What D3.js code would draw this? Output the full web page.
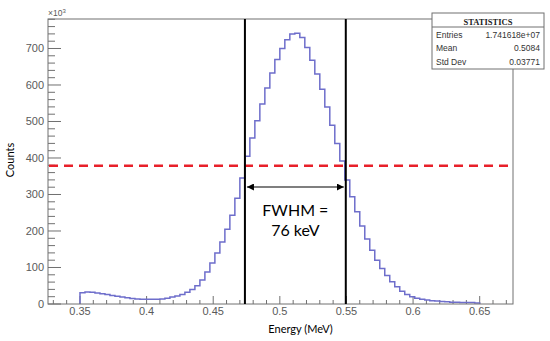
<!DOCTYPE html>
<html>
<head>
<meta charset="utf-8">
<script src="https://cdn.jsdelivr.net/npm/d3@7"></script>
<style>
  body { margin: 0; background: #fff; }
  svg { display: block; }
</style>
</head>
<body>
<div id="container"></div>
<script>
// histogram: 80 bins from 0.35 to 0.65 MeV, counts in thousands
const binStart = 0.35;
const binWidth = 0.00375;
const counts = [31, 33, 32, 30, 28, 26, 23, 21, 19, 17,
                15, 14, 13, 13, 13, 13, 14, 16, 19, 22,
                26, 32, 40, 50, 66, 88, 112, 140, 170, 205,
                243, 290, 345, 405, 455, 502, 548, 592, 633, 670,
                700, 724, 740, 742, 730, 703, 668, 630, 588, 540,
                490, 440, 392, 340, 294, 253, 214, 178, 147, 120,
                97, 78, 61, 47, 35, 26, 20, 16, 13, 11,
                9, 8, 7, 6, 5, 5, 4, 4, 4, 3];

const xTicks = [0.35, 0.4, 0.45, 0.5, 0.55, 0.6, 0.65];
const yTicks = [0, 100, 200, 300, 400, 500, 600, 700];

// FWHM markers
const fwhmLow = 0.4738;
const fwhmHigh = 0.5495;
const halfMax = 379;

const statLabels = ["Entries", "Mean", "Std Dev"];
const statValues = ["1.741618e+07", "0.5084", "0.03771"];

const width = 550;
const height = 341;
const frame = {left: 48, right: 513, top: 19, bottom: 304};

const svg = d3.select("#container")
    .append("svg")
    .attr("width", width)
    .attr("height", height);

const x = d3.scaleLinear().domain([0.326, 0.675]).range([frame.left, frame.right]);
const y = d3.scaleLinear().domain([0, 780.8]).range([frame.bottom, frame.top]);

const gray = "#707070";

// minor + major ticks (drawn inward like ROOT)
const xMinor = d3.range(0.33, 0.6751, 0.01);
svg.append("g").selectAll("line")
    .data(xMinor)
    .join("line")
    .attr("x1", d => x(d)).attr("x2", d => x(d))
    .attr("y1", frame.bottom)
    .attr("y2", d => frame.bottom - (xTicks.some(t => Math.abs(t - d) < 1e-6) ? 8 : 4))
    .attr("stroke", gray);

const yMinor = d3.range(0, 781, 20);
svg.append("g").selectAll("line")
    .data(yMinor)
    .join("line")
    .attr("y1", d => y(d)).attr("y2", d => y(d))
    .attr("x1", frame.left)
    .attr("x2", d => frame.left + (d % 100 === 0 ? 13 : 7))
    .attr("stroke", gray);

// tick labels
svg.append("g").selectAll("text")
    .data(xTicks)
    .join("text")
    .attr("x", d => x(d))
    .attr("y", 315)
    .attr("text-anchor", "middle")
    .attr("fill", "#5a5a5a")
    .style("font", "11px 'Liberation Sans', Arial, sans-serif")
    .text(d => d);

svg.append("g").selectAll("text")
    .data(yTicks)
    .join("text")
    .attr("x", 44)
    .attr("y", d => y(d) + 4)
    .attr("text-anchor", "end")
    .attr("fill", "#5a5a5a")
    .style("font", "11px 'Liberation Sans', Arial, sans-serif")
    .text(d => d);

// x10^3 multiplier
const mult = svg.append("text")
    .attr("x", 48)
    .attr("y", 16)
    .attr("fill", "#5a5a5a")
    .style("font", "8.5px 'Liberation Sans', Arial, sans-serif");
mult.append("tspan").text("\u00d710");
mult.append("tspan").attr("dy", -3).style("font-size", "6px").text("3");

// histogram outline
const pts = [[binStart, 0]];
counts.forEach((c, i) => {
    pts.push([binStart + i * binWidth, c]);
    pts.push([binStart + (i + 1) * binWidth, c]);
});
pts.push([binStart + counts.length * binWidth, 0]);

svg.append("path")
    .attr("d", d3.line().x(d => x(d[0])).y(d => y(d[1]))(pts))
    .attr("fill", "none")
    .attr("stroke", "#6e6ecb")
    .attr("stroke-width", 1.5);

// frame
svg.append("rect")
    .attr("x", frame.left).attr("y", frame.top)
    .attr("width", frame.right - frame.left)
    .attr("height", frame.bottom - frame.top)
    .attr("fill", "none")
    .attr("stroke", gray);

// half maximum line
svg.append("line")
    .attr("x1", frame.left + 1).attr("x2", frame.right)
    .attr("y1", y(halfMax)).attr("y2", y(halfMax))
    .attr("stroke", "#e8202a")
    .attr("stroke-width", 2.5)
    .attr("stroke-dasharray", "9,6");

// FWHM vertical lines
svg.append("g").selectAll("line")
    .data([fwhmLow, fwhmHigh])
    .join("line")
    .attr("x1", d => x(d)).attr("x2", d => x(d))
    .attr("y1", frame.top).attr("y2", frame.bottom)
    .attr("stroke", "#000")
    .attr("stroke-width", 2);

// double arrow
const defs = svg.append("defs");
defs.append("marker")
    .attr("id", "arrow")
    .attr("viewBox", "0 0 10 10")
    .attr("refX", 10).attr("refY", 5)
    .attr("markerWidth", 7).attr("markerHeight", 7)
    .attr("markerUnits", "userSpaceOnUse")
    .attr("orient", "auto-start-reverse")
    .append("path")
    .attr("d", "M0,0L10,5L0,10Z")
    .attr("fill", "#000");

const arrowY = 187;
svg.append("line")
    .attr("x1", x(fwhmLow) + 2).attr("x2", x(fwhmHigh) - 2)
    .attr("y1", arrowY).attr("y2", arrowY)
    .attr("stroke", "#000")
    .attr("stroke-width", 1.2)
    .attr("marker-start", "url(#arrow)")
    .attr("marker-end", "url(#arrow)");

const midX = (x(fwhmLow) + x(fwhmHigh)) / 2;
svg.append("text")
    .attr("x", midX).attr("y", 216)
    .attr("text-anchor", "middle")
    .style("font", "16px Lato, 'Open Sans', sans-serif")
    .text("FWHM =");
svg.append("text")
    .attr("x", midX).attr("y", 236)
    .attr("text-anchor", "middle")
    .style("font", "16px Lato, 'Open Sans', sans-serif")
    .text("76 keV");

// axis titles
svg.append("text")
    .attr("x", (frame.left + frame.right) / 2 + 20)
    .attr("y", 333)
    .attr("text-anchor", "middle")
    .style("font", "11px Lato, 'Open Sans', sans-serif")
    .text("Energy (MeV)");

svg.append("text")
    .attr("transform", "translate(14,160) rotate(-90)")
    .attr("text-anchor", "middle")
    .style("font", "11px Lato, 'Open Sans', sans-serif")
    .text("Counts");

// statistics box
const box = {x: 432, y: 13, w: 112, h: 56};
const stats = svg.append("g");
stats.append("rect")
    .attr("x", box.x).attr("y", box.y)
    .attr("width", box.w).attr("height", box.h)
    .attr("fill", "#fff")
    .attr("stroke", gray);
stats.append("line")
    .attr("x1", box.x).attr("x2", box.x + box.w)
    .attr("y1", 27).attr("y2", 27)
    .attr("stroke", gray);
stats.append("text")
    .attr("x", box.x + box.w / 2).attr("y", 25)
    .attr("text-anchor", "middle")
    .attr("fill", "#222")
    .style("font", "bold 8.5px 'Liberation Serif', serif")
    .text("STATISTICS");
stats.selectAll(".lab")
    .data(statLabels)
    .join("text")
    .attr("x", box.x + 4)
    .attr("y", (d, i) => 38 + i * 13.3)
    .attr("fill", "#333")
    .style("font", "8.5px 'Liberation Sans', Arial, sans-serif")
    .text(d => d);
stats.selectAll(".val")
    .data(statValues)
    .join("text")
    .attr("x", box.x + box.w - 4)
    .attr("y", (d, i) => 38 + i * 13.3)
    .attr("text-anchor", "end")
    .attr("fill", "#333")
    .style("font", "8.5px 'Liberation Sans', Arial, sans-serif")
    .text(d => d);
</script>
</body>
</html>
